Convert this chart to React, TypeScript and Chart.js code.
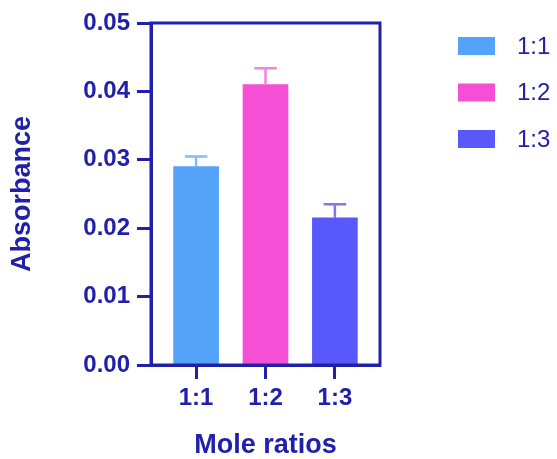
import React, { useEffect, useRef } from "react";
import { Chart, registerables } from "chart.js";

Chart.register(...registerables);

const categories = ["1:1", "1:2", "1:3"];
const values = [0.029, 0.041, 0.0215];
const errors = [0.0015, 0.0024, 0.002];
const barColors = ["#55a2f9", "#f54fd5", "#5858fb"];
const errorColors = ["#82bbf8", "#f283de", "#7a7af6"];
const yTicks = [0, 0.01, 0.02, 0.03, 0.04, 0.05];

const INK = "#2020a8";
const FONT = "'Liberation Sans', Arial, Helvetica, sans-serif";

const errorBarPlugin = {
  id: "errorBars",
  afterDatasetsDraw(chart: any) {
    const { ctx } = chart;
    const meta = chart.getDatasetMeta(0);
    const yScale = chart.scales.y;
    ctx.save();
    meta.data.forEach((bar: any, i: number) => {
      const top = yScale.getPixelForValue(values[i] + errors[i]);
      const base = bar.y;
      const half = bar.width / 4;
      ctx.strokeStyle = errorColors[i];
      ctx.lineWidth = 2.5;
      ctx.beginPath();
      ctx.moveTo(bar.x, base);
      ctx.lineTo(bar.x, top);
      ctx.moveTo(bar.x - half, top);
      ctx.lineTo(bar.x + half, top);
      ctx.stroke();
    });
    ctx.restore();
  },
};

const framePlugin = {
  id: "frame",
  afterDraw(chart: any) {
    const { ctx, chartArea } = chart;
    ctx.save();
    ctx.strokeStyle = INK;
    ctx.lineWidth = 3;
    ctx.strokeRect(
      chartArea.left,
      chartArea.top,
      chartArea.right - chartArea.left,
      chartArea.bottom - chartArea.top
    );
    ctx.restore();
  },
};

const legendPlugin = {
  id: "customLegend",
  afterDraw(chart: any) {
    const { ctx, chartArea } = chart;
    const x0 = chartArea.right + 78;
    const y0 = chartArea.top + 14;
    ctx.save();
    ctx.font = `24px ${FONT}`;
    ctx.textBaseline = "middle";
    ctx.textAlign = "left";
    categories.forEach((c, i) => {
      const y = y0 + i * 46.5;
      ctx.fillStyle = barColors[i];
      ctx.fillRect(x0, y, 37, 18);
      ctx.fillStyle = INK;
      ctx.fillText(c, x0 + 59, y + 10);
    });
    ctx.restore();
  },
};

export default function App() {
  const ref = useRef<HTMLCanvasElement>(null);

  useEffect(() => {
    if (!ref.current) return;
    const chart = new Chart(ref.current, {
      type: "bar",
      data: {
        datasets: [
          {
            label: "Absorbance",
            data: categories.map((c, i) => ({ x: i + 1, y: values[i] })),
            backgroundColor: barColors,
            barThickness: 45,
          },
        ],
      },
      options: {
        animation: false,
        responsive: false,
        devicePixelRatio: 1,
        layout: { padding: { top: 23, right: 177, left: 0, bottom: 0 } },
        plugins: {
          legend: { display: false },
          tooltip: { enabled: false },
        },
        scales: {
          x: {
            type: "linear",
            offset: false,
            min: 0.35,
            max: 3.65,
            afterBuildTicks: (scale: any) => {
              scale.ticks = categories.map((c, i) => ({ value: i + 1 }));
            },
            afterFit: (scale: any) => {
              scale.height = 94;
            },
            grid: {
              offset: false,
              drawOnChartArea: false,
              drawTicks: true,
              tickLength: 14,
              tickWidth: 3,
              tickColor: INK,
              color: INK,
            },
            border: { display: true, color: INK, width: 3 },
            ticks: {
              padding: 5,
              color: INK,
              font: { family: FONT, size: 24, weight: "bold" },
              maxRotation: 0,
              callback: (v: any) => categories[Math.round(v) - 1] ?? "",
            },
            title: {
              display: true,
              text: "Mole ratios",
              color: INK,
              font: { family: FONT, size: 27, weight: "bold", lineHeight: 1 },
              padding: { top: 0, bottom: 0 },
            },
          },
          y: {
            min: 0,
            max: 0.05,
            afterBuildTicks: (scale: any) => {
              scale.ticks = yTicks.map((v) => ({ value: v }));
            },
            afterFit: (scale: any) => {
              scale.width = 151;
            },
            grid: {
              drawOnChartArea: false,
              drawTicks: true,
              tickLength: 14,
              tickWidth: 3,
              tickColor: INK,
              color: INK,
            },
            border: { display: true, color: INK, width: 3 },
            ticks: {
              padding: 7,
              color: INK,
              font: { family: FONT, size: 24, weight: "bold" },
              callback: (v: any) => Number(v).toFixed(2),
            },
            title: {
              display: true,
              text: "Absorbance",
              color: INK,
              font: { family: FONT, size: 27, weight: "bold", lineHeight: 1 },
              padding: { top: 9, bottom: 0 },
            },
          },
        },
      },
      plugins: [errorBarPlugin, framePlugin, legendPlugin],
    } as any);
    return () => chart.destroy();
  }, []);

  return (
    <div style={{ position: "absolute", left: 0, top: 0, width: 557, height: 459, background: "#fff" }}>
      <canvas ref={ref} width={557} height={459} />
    </div>
  );
}
